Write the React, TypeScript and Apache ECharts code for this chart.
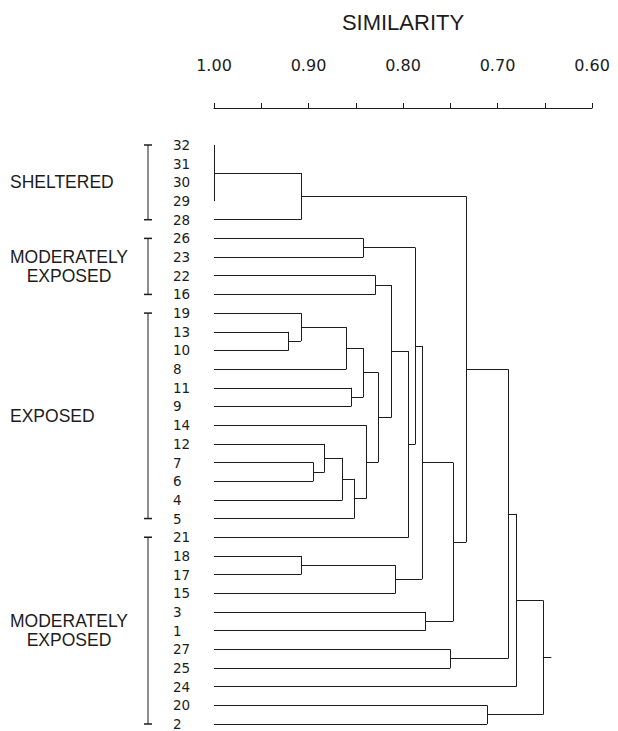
import React, { useEffect, useRef } from "react";
import * as echarts from "echarts";

// Leaf order from top to bottom of the dendrogram
const leafOrder = [
  "32", "31", "30", "29", "28", "26", "23", "22", "16", "19", "13", "10", "8", "11", "9", "14",
  "12", "7", "6", "4", "5", "21", "18", "17", "15", "3", "1", "27", "25", "24", "20", "2",
];

// Agglomeration steps: members (leaf labels or earlier cluster ids) and similarity level
const clusterIds = [
  "c1", "c2", "c3", "c4", "c5", "c6", "c7", "c8", "c9", "c10", "c11", "c12", "c13", "c14", "c15",
  "c16", "c17", "c18", "c19", "c20", "c21", "c22", "c23", "c24", "c25", "c26", "c27", "c28", "c29",
];
const clusterMembers: string[][] = [
  ["32", "31", "30", "29"],
  ["c1", "28"],
  ["26", "23"],
  ["22", "16"],
  ["13", "10"],
  ["19", "c5"],
  ["c6", "8"],
  ["11", "9"],
  ["c7", "c8"],
  ["7", "6"],
  ["12", "c10"],
  ["c11", "4"],
  ["c12", "5"],
  ["14", "c13"],
  ["c9", "c14"],
  ["c4", "c15"],
  ["c16", "21"],
  ["c3", "c17"],
  ["18", "17"],
  ["c19", "15"],
  ["c18", "c20"],
  ["3", "1"],
  ["c21", "c22"],
  ["c2", "c23"],
  ["27", "25"],
  ["c24", "c25"],
  ["c26", "24"],
  ["20", "2"],
  ["c27", "c28"],
];
const clusterSimilarity = [
  1.0, 0.908, 0.842, 0.829, 0.921, 0.908, 0.86, 0.855, 0.842, 0.895, 0.883, 0.864, 0.852, 0.839,
  0.826, 0.812, 0.794, 0.787, 0.908, 0.808, 0.78, 0.776, 0.747, 0.733, 0.75, 0.689, 0.68, 0.711,
  0.652,
];
const rootStubSimilarity = 0.643;
const leafSimilarity = 1.0;

// Exposure groups marked by brackets on the left
const groupNames = ["SHELTERED", "MODERATELY\nEXPOSED", "EXPOSED", "MODERATELY\nEXPOSED"];
const groupFirstLeaf = ["32", "26", "19", "21"];
const groupLastLeaf = ["28", "16", "5", "2"];

// Axis
const axisTitle = "SIMILARITY";
const axisMin = 0.6;
const axisMax = 1.0;
const tickStep = 0.05;

const INK = "#1c1c1c";

function buildSegments(): number[][][] {
  const pos: Record<string, { x: number; y: number }> = {};
  leafOrder.forEach((l, i) => {
    pos[l] = { x: leafSimilarity, y: i };
  });
  const segs: number[][][] = [];
  clusterIds.forEach((id, k) => {
    const s = clusterSimilarity[k];
    const kids = clusterMembers[k].map((m) => pos[m]);
    const ys = kids.map((p) => p.y);
    const yMin = Math.min(...ys);
    const yMax = Math.max(...ys);
    kids.forEach((p) => {
      if (p.x !== s) segs.push([[p.x, p.y], [s, p.y]]);
    });
    segs.push([[s, yMin], [s, yMax]]);
    pos[id] = { x: s, y: (yMin + yMax) / 2 };
  });
  const root = pos[clusterIds[clusterIds.length - 1]];
  segs.push([[root.x, root.y], [rootStubSimilarity, root.y]]);
  return segs;
}

export default function App() {
  const ref = useRef<HTMLDivElement>(null);

  useEffect(() => {
    if (!ref.current) return;
    const chart = echarts.init(ref.current, undefined, { renderer: "svg" });
    const segs = buildSegments();
    const groupData = groupNames.map((_, i) => [
      leafOrder.indexOf(groupFirstLeaf[i]),
      leafOrder.indexOf(groupLastLeaf[i]),
    ]);

    chart.setOption({
      animation: false,
      backgroundColor: "#ffffff",
      grid: { left: 214, right: 26, top: 145, bottom: 5.4, containLabel: false },
      xAxis: {
        type: "value",
        position: "top",
        offset: 37,
        inverse: true,
        min: axisMin,
        max: axisMax,
        interval: tickStep,
        name: axisTitle,
        nameLocation: "middle",
        nameGap: 75,
        nameTextStyle: { fontSize: 22, fontFamily: "Liberation Sans", color: INK },
        axisLine: { show: true, onZero: false, lineStyle: { color: INK, width: 1 } },
        axisTick: { show: true, inside: false, length: 5, lineStyle: { color: INK, width: 1 } },
        axisLabel: {
          margin: 35,
          fontSize: 16,
          fontFamily: "DejaVu Sans",
          color: INK,
          showMinLabel: true,
          showMaxLabel: true,
          formatter: (v: number) => (Math.round(v * 100) % 10 === 0 ? v.toFixed(2) : ""),
        },
        splitLine: { show: false },
      },
      yAxis: {
        type: "value",
        inverse: true,
        min: 0,
        max: leafOrder.length - 1,
        interval: 1,
        axisLine: { show: false, onZero: false },
        axisTick: { show: false },
        splitLine: { show: false },
        axisLabel: {
          margin: 41,
          align: "left",
          fontSize: 13.5,
          fontFamily: "DejaVu Sans",
          color: INK,
          showMinLabel: true,
          showMaxLabel: true,
          formatter: (v: number) => leafOrder[Math.round(v)] ?? "",
        },
      },
      series: [
        {
          type: "lines",
          coordinateSystem: "cartesian2d",
          polyline: false,
          silent: true,
          clip: false,
          lineStyle: { color: INK, width: 1, opacity: 1, curveness: 0 },
          data: segs.map((c) => ({ coords: c })),
        },
        {
          type: "custom",
          coordinateSystem: "cartesian2d",
          silent: true,
          clip: false,
          data: groupData,
          renderItem: (params: any, api: any) => {
            const i = params.dataIndex;
            const a = api.coord([axisMax, api.value(0)]);
            const b = api.coord([axisMax, api.value(1)]);
            const bx = a[0] - 66;
            const name = groupNames[i];
            const multi = name.indexOf("\n") >= 0;
            const cy = (a[1] + b[1]) / 2;
            return {
              type: "group",
              children: [
                {
                  type: "line",
                  shape: { x1: bx, y1: a[1], x2: bx, y2: b[1] },
                  style: { stroke: INK, lineWidth: 1 },
                },
                {
                  type: "line",
                  shape: { x1: bx - 4, y1: a[1], x2: bx + 4, y2: a[1] },
                  style: { stroke: INK, lineWidth: 1.5 },
                },
                {
                  type: "line",
                  shape: { x1: bx - 4, y1: b[1], x2: bx + 4, y2: b[1] },
                  style: { stroke: INK, lineWidth: 1.5 },
                },
                {
                  type: "text",
                  x: multi ? bx - 79 : bx - 138,
                  y: cy,
                  style: {
                    text: name,
                    align: multi ? "center" : "left",
                    verticalAlign: "middle",
                    fontSize: 17.5,
                    lineHeight: 18.5,
                    fontFamily: "Liberation Sans",
                    fill: INK,
                  },
                },
              ],
            };
          },
        },
      ],
    });

    return () => {
      chart.dispose();
    };
  }, []);

  return (
    <div
      ref={ref}
      style={{ position: "fixed", left: 0, top: 0, width: 618, height: 731, background: "#fff" }}
    />
  );
}
